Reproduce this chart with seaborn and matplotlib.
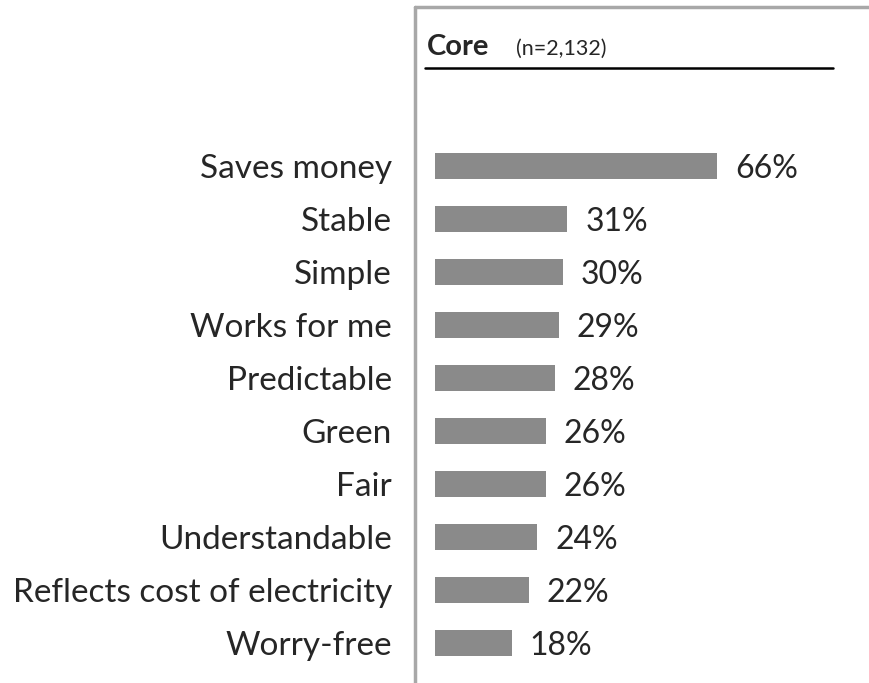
import matplotlib
matplotlib.use('Agg')
import matplotlib.pyplot as plt
import seaborn as sns
import pandas as pd
from matplotlib.lines import Line2D

# chart data
attributes = ['Saves money', 'Stable', 'Simple', 'Works for me', 'Predictable',
              'Green', 'Fair', 'Understandable', 'Reflects cost of electricity', 'Worry-free']
core_pct = [66, 31, 30, 29, 28, 26, 26, 24, 22, 18]
panel_name = 'Core'
panel_n = '(n=2,132)'

df = pd.DataFrame({'attribute': attributes, 'pct': core_pct})

sns.set_style('white')
plt.rcParams['font.family'] = ['Lato', 'DejaVu Sans']

W, H = 870, 683
fig = plt.figure(figsize=(W / 100, H / 100), dpi=100)

# axes placed in pixel terms
left, right = 435, 870
top, bottom = 139.5, 669.5
ax = fig.add_axes([left / W, 1 - bottom / H, (right - left) / W, (bottom - top) / H])

sns.barplot(data=df, x='pct', y='attribute', ax=ax, color='#8a8a8a', width=0.5,
            saturation=1, edgecolor='none')
ax.set_xlim(0, (right - left) / 4.27)
ax.set_ylim(len(attributes) - 0.5, -0.5)
ax.set_xlabel('')
ax.set_ylabel('')
ax.set_xticks([])
ax.tick_params(axis='y', length=0, pad=31, labelsize=24)
for s in ax.spines.values():
    s.set_visible(False)

for i, v in enumerate(core_pct):
    ax.text(v + 4.2, i + 0.06, f'{v}%', va='center', ha='left', fontsize=23)

# panel frame
fig.add_artist(Line2D([415 / W, 415 / W], [0, 1 - 7 / H], transform=fig.transFigure,
                      color='#a8a8a8', lw=2.5))
fig.add_artist(Line2D([415 / W, 1], [1 - 7 / H, 1 - 7 / H], transform=fig.transFigure,
                      color='#a8a8a8', lw=2.5))

# panel header
fig.text(427 / W, 1 - 55 / H, panel_name, fontsize=21, fontweight='bold', va='baseline')
fig.text(516 / W, 1 - 55 / H, panel_n, fontsize=15.5, va='baseline')
fig.add_artist(Line2D([425 / W, 833 / W], [1 - 68 / H, 1 - 68 / H], transform=fig.transFigure,
                      color='black', lw=1.8))

fig.savefig('out.png', dpi=100)
